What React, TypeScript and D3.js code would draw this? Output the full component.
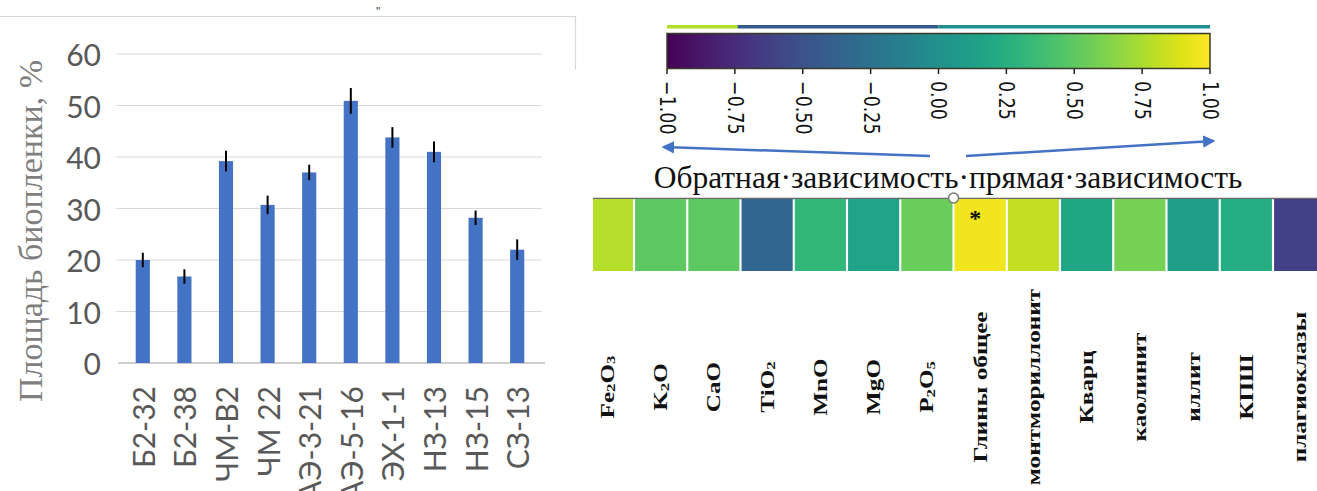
import React from "react";
import * as d3 from "d3";

// ---- Biofilm area by sample ----
const sites = ["Б2-32", "Б2-38", "ЧМ-В2", "ЧМ 22", "АЭ-3-21", "АЭ-5-16", "ЭХ-1-1", "НЗ-13", "НЗ-15", "СЗ-13"];
const biofilmArea = [20, 16.8, 39.2, 30.7, 37, 50.9, 43.8, 41, 28.2, 22];
const biofilmError = [1.4, 1.4, 2, 1.8, 1.5, 2.5, 2, 2, 1.4, 2];
const areaTicks = [0, 10, 20, 30, 40, 50, 60];

// ---- Correlation of biofilm area with composition ----
// "_" marks a subscript digit
const components = [
  "Fe_2O_3", "K_2O", "CaO", "TiO_2", "MnO", "MgO", "P_2O_5",
  "Глины общее", "монтмориллонит", "Кварц", "каолинит", "иллит", "КПШ", "плагиоклазы",
];
const correlations = [0.78, 0.5, 0.5, -0.34, 0.32, 0.16, 0.54, 0.96, 0.82, 0.18, 0.58, 0.12, 0.24, -0.62];
const significant = [false, false, false, false, false, false, false, true, false, false, false, false, false, false];
const colorTicks = [-1, -0.75, -0.5, -0.25, 0, 0.25, 0.5, 0.75, 1];
// edge of a neighbouring row peeking above the colour bar
const stripBreaks = [-1, -0.74, 0, 1];
const stripValues = [0.78, -0.44, -0.02];

const W = 1317;
const H = 491;

const viridis = (v: number) => d3.interpolateViridis((v + 1) / 2);

function labelPieces(s: string) {
  const out: { t: string; sub: boolean }[] = [];
  for (let i = 0; i < s.length; i++) {
    if (s[i] === "_" && i + 1 < s.length) {
      out.push({ t: s[i + 1], sub: true });
      i++;
    } else {
      const last = out[out.length - 1];
      if (last && !last.sub) last.t += s[i];
      else out.push({ t: s[i], sub: false });
    }
  }
  return out;
}

function BarChart() {
  const x = d3.scaleBand<string>().domain(sites).range([122, 538]).paddingInner(0.66).paddingOuter(0.33);
  const y = d3.scaleLinear().domain([0, 60]).range([363, 54]);
  const grey = "#595959";
  return (
    <g>
      {/* frame remnant */}
      <path d="M0,16.5H575.5V70" fill="none" stroke="#d9d9d9" strokeWidth={1.2} />
      <text x={376} y={16} fontSize={12} fill="#444" fontFamily="Liberation Sans">"</text>
      {areaTicks.map((t) => (
        <g key={t}>
          {t > 0 && <line x1={116} x2={542} y1={y(t)} y2={y(t)} stroke="#d9d9d9" strokeWidth={1.2} />}
          <text x={101} y={y(t)} textAnchor="end" dominantBaseline="central" fontSize={30} fill={grey} fontFamily="Lato">
            {t}
          </text>
        </g>
      ))}
      <line x1={118} x2={545} y1={y(0)} y2={y(0)} stroke="#bfbfbf" strokeWidth={1.5} />
      {sites.map((s, i) => {
        const cx = (x(s) as number) + x.bandwidth() / 2;
        return (
          <g key={s}>
            <rect x={x(s)} y={y(biofilmArea[i])} width={x.bandwidth()} height={y(0) - y(biofilmArea[i])} fill="#4472c4" />
            <line
              x1={cx}
              x2={cx}
              y1={y(biofilmArea[i] + biofilmError[i])}
              y2={y(biofilmArea[i] - biofilmError[i])}
              stroke="#000"
              strokeWidth={2}
            />
            <text
              transform={`translate(${cx},386) rotate(-90)`}
              textAnchor="end"
              dominantBaseline="central"
              fontSize={30}
              fill={grey}
              fontFamily="Lato"
            >
              {s}
            </text>
          </g>
        );
      })}
      <text
        transform="translate(30,231) rotate(-90)"
        textAnchor="middle"
        dominantBaseline="central"
        fontSize={34}
        fill="#7f7f7f"
        fontFamily="Liberation Serif"
      >
        Площадь биопленки, %
      </text>
    </g>
  );
}

function Heatmap() {
  const cx = d3.scaleLinear().domain([-1, 1]).range([667, 1210]);
  const cell = d3
    .scaleBand<string>()
    .domain(components)
    .range([580.75, 580.75 + components.length * 53.25])
    .paddingInner(0.04)
    .paddingOuter(0.02);
  const top = 199;
  const bottom = 271;
  const gradStops = d3.range(0, 1.0001, 0.05);
  const arrowBlue = "#4472c4";
  const midX = cell(components[7]) as number;
  return (
    <g>
      <defs>
        <linearGradient id="viridisBar" x1="0" x2="1" y1="0" y2="0">
          {gradStops.map((t) => (
            <stop key={t} offset={t} stopColor={d3.interpolateViridis(t)} />
          ))}
        </linearGradient>
        <clipPath id="cbClip">
          <rect x={600} y={0} width={700} height={134} />
        </clipPath>
        <clipPath id="hmClip">
          <rect x={593} y={0} width={W - 593} height={H} />
        </clipPath>
        <marker id="arrowHead" viewBox="0 0 10 10" refX="8" refY="5" markerWidth="5" markerHeight="5" orient="auto">
          <path d="M0,0L10,5L0,10Z" fill={arrowBlue} />
        </marker>
      </defs>

      {/* colour bar */}
      <g clipPath="url(#cbClip)">
        {stripValues.map((v, i) => (
          <rect
            key={i}
            x={cx(stripBreaks[i])}
            y={25}
            width={cx(stripBreaks[i + 1]) - cx(stripBreaks[i])}
            height={3.5}
            fill={viridis(v)}
          />
        ))}
        <rect x={cx(-1)} y={33.5} width={cx(1) - cx(-1)} height={35} fill="url(#viridisBar)" stroke="#3a3a2a" strokeWidth={1.5} />
        {colorTicks.map((t) => (
          <g key={t}>
            <line x1={cx(t)} x2={cx(t)} y1={69} y2={74} stroke="#222" strokeWidth={1.5} />
            <text
              transform={`translate(${cx(t)},81) rotate(90) scale(1,1.2)`}
              textAnchor="start"
              dominantBaseline="central"
              fontSize={17.5}
              fill="#111"
              fontFamily="DejaVu Sans"
            >
              {d3.format(".2f")(t).replace("-", "\u2212")}
            </text>
          </g>
        ))}
      </g>

      {/* direction arrows and caption */}
      <line x1={930} y1={156} x2={cx(-1) - 3} y2={147} stroke={arrowBlue} strokeWidth={2.5} markerEnd="url(#arrowHead)" />
      <line x1={966} y1={156} x2={cx(1) + 3} y2={141} stroke={arrowBlue} strokeWidth={2.5} markerEnd="url(#arrowHead)" />
      <text x={948} y={188} textAnchor="middle" fontSize={31.5} fill="#111" fontFamily="Liberation Serif">
        Обратная·зависимость·прямая·зависимость
      </text>

      {/* correlation cells */}
      <g clipPath="url(#hmClip)">
        <line x1={580} x2={W} y1={top - 0.5} y2={top - 0.5} stroke="#6a6a6a" strokeWidth={1.5} />
        {components.map((c, i) => (
          <g key={c}>
            <rect x={cell(c)} y={top} width={cell.bandwidth()} height={bottom - top} fill={viridis(correlations[i])} />
            {significant[i] && (
              <text
                x={(cell(c) as number) + cell.bandwidth() / 2 - 5}
                y={226}
                textAnchor="middle"
                fontSize={24}
                fontWeight="bold"
                fill="#111"
                fontFamily="Liberation Serif"
              >
                *
              </text>
            )}
            <g transform={`translate(${(cell(c) as number) + cell.bandwidth() / 2},387) rotate(-90) scale(1.4,1)`}>
              <text textAnchor="middle" dominantBaseline="central" fontSize={18} fontWeight="bold" fill="#111" fontFamily="Liberation Serif">
                {labelPieces(c).map((p, k) =>
                  p.sub ? (
                    <tspan key={k} fontSize={12} dy={4}>
                      {p.t}
                    </tspan>
                  ) : (
                    <tspan key={k} dy={k > 0 && labelPieces(c)[k - 1].sub ? -4 : 0}>
                      {p.t}
                    </tspan>
                  )
                )}
              </text>
            </g>
          </g>
        ))}
      </g>
      <circle cx={midX - 1} cy={top - 1} r={5} fill="#fff" stroke="#777" strokeWidth={1.5} />
    </g>
  );
}

export default function App() {
  return (
    <div style={{ position: "absolute", left: 0, top: 0, width: W, height: H, background: "#fff" }}>
      <svg width={W} height={H} viewBox={`0 0 ${W} ${H}`} style={{ display: "block" }}>
        <rect width={W} height={H} fill="#fff" />
        <BarChart />
        <Heatmap />
      </svg>
    </div>
  );
}
